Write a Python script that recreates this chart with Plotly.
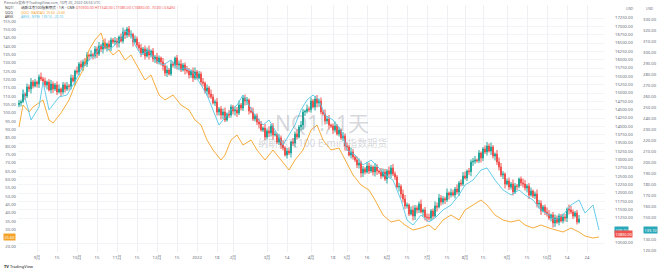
import plotly.graph_objects as go

# ---------------- data ----------------
closes = [
    14700, 14740, 14970, 14910, 15180, 15120, 15330, 15210, 15330, 15270,
    15480, 15420, 15360, 15240, 15330, 15090, 15270, 15120, 15240, 15030,
    15120, 15030, 15240, 15120, 15210, 15200, 15450, 15360, 15660, 15630,
    15870, 15780, 15930, 15870, 16140, 16110, 16150, 16110, 16320, 16170,
    16410, 16320, 16500, 16350, 16470, 16380, 16590, 16530, 16560, 16500,
    16680, 16560, 16830, 16740, 16920, 16740, 16760, 16530, 16620, 16440,
    16350, 16200, 16320, 16110, 16290, 16140, 16260, 16020, 16080, 15930,
    16050, 15930, 15810, 15600, 15690, 15570, 15870, 15840, 16050, 15840,
    15870, 15690, 15840, 15690, 15660, 15540, 15660, 15450, 15630, 15450,
    15570, 15330, 15300, 15060, 15150, 14970, 14880, 14700, 14730, 14430,
    14520, 14340, 14430, 14190, 14370, 14340, 14580, 14460, 14490, 14400,
    14640, 14550, 14850, 14760, 14790, 14460, 14430, 14220, 14310, 14130,
    14070, 13890, 13950, 13680, 13860, 13800, 14010, 13740, 13760, 13530,
    13650, 13440, 13350, 13140, 13260, 13200, 13530, 13500, 13770, 13680,
    13980, 14040, 14430, 14450, 14520, 14500, 14760, 14580, 14820, 14700,
    14760, 14430, 14370, 14160, 14220, 14040, 14010, 13890, 14010, 13770,
    13890, 13650, 13710, 13410, 13380, 13140, 13230, 13080, 12990, 12840,
    12900, 12600, 12720, 12630, 12810, 12660, 12780, 12630, 12780, 12660,
    12630, 12510, 12630, 12420, 12660, 12570, 12750, 12570, 12480, 12180,
    12200, 11970, 11820, 11610, 11640, 11370, 11490, 11310, 11550, 11490,
    11670, 11430, 11490, 11280, 11260, 11250, 11460, 11310, 11610, 11580,
    11850, 11730, 11830, 11790, 12000, 11940, 12010, 11940, 12120, 12030,
    12300, 12270, 12510, 12450, 12660, 12640, 12930, 12950, 12990, 12970,
    13200, 13050, 13320, 13230, 13410, 13260, 13380, 13110, 13170, 12930,
    12780, 12540, 12570, 12270, 12360, 12180, 12270, 12030, 12210, 12200,
    12420, 12300, 12270, 12150, 12210, 11940, 12060, 11910, 11970, 11670,
    11690, 11460, 11580, 11430, 11370, 11250, 11340, 11100, 11250, 11120,
    11310, 11160, 11280, 11250, 11520, 11490, 11430, 11310, 11400, 11130,
    11220, 11010, 11070, 10800, 10820, 10590, 10740, 10760, 10830, 10900, 10830,
]
first_open = 14650

# upper / lower shadow lengths, in units of 15 points
wick_hi_units = (
    "6 4 9 3 7 5 8 4 6 3 5 9 4 7 3 6 8 5 4 7 9 3 6 5 8 4 7 6 3 9 "
    "4 7 5 8 6 3 9 4 6 5 8 4 6 9 3 7 5 4 8 6 3 7 9 5 4 6 8 3 7 5 "
    "6 8 4 7 5 9 3 6 4 8 5 3 8 6 9 4 7 5 3 6 7 9 4 5 8 6 3 7 9 4 "
    "6 5 8 3 7 4 9 6 5 8 4 6 7 9 3 8 5 4 7 6 9 4 5 7 6 3 8 9 4 5 "
    "7 6 3 8 5 9 4 6 7 3 8 5 9 4 6 7 3 8 5 9 4 8 6 3 9 5 7 4 6 8 "
    "5 7 4 9 6 8 3 5 9 4 6 3 8 5 7 4 9 6 3 7 9 5 6 4 8 7 5 3 8 6 "
    "3 8 7 6 4 9 6 8 5 4 7 4 9 8 5 3 7 9 6 5 5 9 3 6 7 8 4 5 9 7 "
    "8 6 5 4 9 3 8 6 4 9 4 7 8 9 3 6 5 7 8 3 6 3 4 7 8 5 9 4 3 8 "
    "9 8 6 3 5 7 4 9 6 4 3 5 9 8 4 6 7 3 5 9 7 6 4 5 9 8 3 6 7 5 "
    "5 4 7 6 3 9 8 5 4 6 8"
)
wick_lo_units = (
    "5 7 3 8 4 6 9 5 3 7 8 4 6 5 9 3 7 8 4 6 3 9 5 7 4 8 6 3 9 5 "
    "7 5 8 4 6 9 3 7 5 8 4 6 9 3 7 5 8 4 6 9 9 3 5 8 6 4 7 9 3 5 "
    "6 8 4 7 3 9 5 6 8 4 5 7 9 6 8 3 4 5 7 9 8 4 3 9 5 7 6 8 4 3 "
    "3 6 7 5 9 8 4 3 6 7 7 9 8 4 3 6 5 7 9 8 4 5 6 9 8 7 3 4 5 6 "
    "9 3 4 6 5 8 7 9 3 4 6 8 5 3 7 4 9 6 8 5 3 7 9 8 4 5 6 3 7 9 "
    "8 5 3 7 6 9 4 8 5 3 5 4 6 9 8 3 7 5 4 6 7 9 8 5 3 6 4 7 9 8 "
    "4 6 3 4 9 7 8 4 6 3 9 8 7 6 5 4 3 9 8 7 6 3 9 7 8 5 6 6 3 9 "
    "3 7 5 8 4 9 5 3 7 5 8 5 4 3 6 7 9 8 5 4 5 9 6 4 7 3 8 5 9 6 "
    "7 4 8 9 3 6 5 7 4 8 4 6 7 5 9 8 3 4 6 7 9 8 3 6 5 4 7 9 8 3 "
    "6 3 5 7 8 9 4 6 3 5 3"
)

# comparison series (left scale: orange, second right scale: blue)
orange_idx = [0, 2, 5, 7, 12, 15, 17, 21, 25, 28, 32, 35, 38, 41, 43, 47, 50, 53, 56, 60,
              63, 66, 70, 73, 77, 81, 85, 88, 91, 94, 97, 101, 103, 106, 109, 112, 116, 119, 123, 127,
              131, 135, 138, 142, 146, 149, 152, 156, 160, 163, 167, 171, 175, 178, 182, 186, 190, 193, 197, 201,
              205, 208, 212, 216, 220, 223, 227, 231, 234, 238, 242, 246, 250, 253, 257, 261, 265, 269, 272, 276,
              280, 283, 287, 290]
orange_val = [91.6, 104.8, 100.6, 103.6, 107.8, 95.8, 94.0, 100.0, 107.8, 116.8,
              125.8, 137.8, 143.8, 148.0, 140.8, 134.8, 137.8, 131.8, 134.8, 125.8,
              119.8, 122.8, 110.8, 107.8, 110.8, 104.8, 101.8, 95.8, 92.8, 83.8,
              77.8, 71.8, 74.8, 83.8, 86.8, 80.8, 83.8, 77.8, 71.8, 77.8,
              71.8, 65.8, 71.8, 77.8, 89.8, 92.8, 83.8, 77.8, 79.0, 71.8,
              62.8, 56.8, 53.8, 47.8, 38.8, 34.6, 35.8, 32.8, 29.8, 31.0,
              32.8, 29.8, 35.8, 38.8, 35.8, 41.8, 44.8, 47.8, 44.8, 38.8,
              35.8, 34.6, 35.8, 32.8, 31.0, 32.8, 31.0, 29.8, 28.6, 31.0,
              28.6, 26.2, 25.0, 25.6]

blue_idx = [2, 6, 10, 12, 15, 20, 24, 27, 31, 35, 38, 41, 45, 48, 51, 53, 56, 58, 61, 65,
            68, 72, 76, 80, 83, 87, 91, 94, 97, 100, 102, 106, 109, 112, 115, 118, 122, 125, 128, 132,
            135, 138, 141, 144, 147, 150, 153, 157, 161, 164, 168, 172, 176, 180, 183, 187, 191, 194, 197, 201,
            205, 208, 212, 216, 220, 223, 227, 231, 234, 238, 242, 246, 250, 253, 257, 261, 265, 268, 272, 276,
            280, 283, 287, 290]
blue_val = [266.4, 239.1, 250.9, 273.6, 248.2, 260.0, 261.8, 270.9, 284.5, 293.6,
            298.2, 307.3, 302.7, 307.3, 313.6, 320.9, 316.4, 307.3, 298.2, 302.7,
            293.6, 289.1, 293.6, 284.5, 286.4, 282.7, 270.9, 261.8, 248.2, 234.5,
            239.1, 248.2, 252.7, 261.8, 252.7, 243.6, 234.5, 239.1, 230.0, 216.4,
            225.5, 234.5, 248.2, 257.3, 261.8, 257.3, 243.6, 239.1, 230.0, 211.8,
            207.3, 198.2, 202.7, 195.5, 189.1, 184.5, 166.4, 148.2, 143.6, 152.7,
            146.4, 150.0, 157.3, 161.8, 170.9, 180.0, 184.5, 193.6, 195.5, 184.5,
            175.5, 170.9, 175.5, 170.9, 166.4, 157.3, 152.7, 148.2, 152.7, 161.8,
            166.4, 154.5, 161.8, 139.1]

x_tick_idx = [9, 19, 29, 39, 49, 59, 69, 79, 89, 99, 107, 124, 134, 146, 157, 164, 174, 184,
              194, 204, 214, 223, 232, 244, 254, 264, 274, 284]
x_tick_text = ["9月", "15", "10月", "15", "11月", "15", "12月", "15", "2022", "18", "2月", "3月", "14",
               "4月", "18", "5月", "16", "6月", "15", "7月", "15", "8月", "15", "9月", "15", "10月", "14", "24"]

main_ticks = list(range(10500, 17251, 250))
left_ticks = list(range(20, 156, 5))
blue_ticks = list(range(120, 331, 10))

# ---------------- build ----------------
n = len(closes)
idx = list(range(n))
opens = [first_open] + closes[:-1]
wh = [int(v) * 15 for v in wick_hi_units.split()][:n]
wl = [int(v) * 15 for v in wick_lo_units.split()][:n]
highs = [max(o, c) + w for o, c, w in zip(opens, closes, wh)]
lows = [min(o, c) - w for o, c, w in zip(opens, closes, wl)]

UP, DN = "#26a69a", "#ef5350"
ORANGE, BLUE, TEAL = "#f5a327", "#55c6e6", "#2aa7b9"
TXT = "#676b77"
FONT = "Noto Sans, Noto Sans CJK SC, sans-serif"

W, H = 660, 272
ML, MR, MT, MB = 18, 0, 5, 20
PW, PH = W - ML - MR, H - MT - MB

Y_MAIN = [10230, 17640]
Y_LEFT = [16.6, 164.8]
Y_BLUE = [119.1, 343.6]


def px(x):
    return (x - ML) / PW


def py(y):
    return 1 - (y - MT) / PH


def clear_of(ticks, value, rng, gap_px=5):
    """drop tick labels that would sit under a price box"""
    per_px = (rng[1] - rng[0]) / PH
    return [t for t in ticks if abs(t - value) / per_px > gap_px]


fig = go.Figure()
fig.add_trace(go.Candlestick(
    x=idx, open=opens, high=highs, low=lows, close=closes,
    increasing=dict(line=dict(color=UP, width=1), fillcolor=UP),
    decreasing=dict(line=dict(color=DN, width=1), fillcolor=DN),
    whiskerwidth=0, yaxis="y", showlegend=False, hoverinfo="skip"))
fig.add_trace(go.Scatter(x=orange_idx, y=orange_val, mode="lines", yaxis="y2",
                         line=dict(color=ORANGE, width=0.9), showlegend=False, hoverinfo="skip"))
fig.add_trace(go.Scatter(x=blue_idx, y=blue_val, mode="lines", yaxis="y3",
                         line=dict(color=BLUE, width=0.9), showlegend=False, hoverinfo="skip"))

mt = clear_of(main_ticks, closes[-1], Y_MAIN, 6)
lt = clear_of(left_ticks, orange_val[-1], Y_LEFT, 5)
bt = clear_of(blue_ticks, blue_val[-1], Y_BLUE, 5)

tickfont = dict(size=4.2, color=TXT, family=FONT)
fig.update_layout(
    width=W, height=H, margin=dict(l=ML, r=MR, t=MT, b=MB),
    paper_bgcolor="white", plot_bgcolor="white", font=dict(family=FONT),
    xaxis=dict(domain=[0, px(605)], range=[-0.5, 293], tickvals=x_tick_idx, ticktext=x_tick_text,
               tickfont=tickfont, showgrid=True, gridcolor="#eef0f4", gridwidth=1,
               zeroline=False, showline=False, ticks="", rangeslider=dict(visible=False),
               ticklabelstandoff=2),
    yaxis=dict(side="right", range=Y_MAIN, tickvals=mt,
               ticktext=[f"{v:.2f}" for v in mt], tickfont=tickfont,
               showgrid=True, gridcolor="#f3f4f7", zeroline=False, ticks="", ticklabelstandoff=9),
    yaxis2=dict(overlaying="y", side="left", range=Y_LEFT, tickvals=lt,
                ticktext=[f"{v:.2f}" for v in lt], tickfont=tickfont,
                showgrid=False, zeroline=False, ticks="", ticklabelstandoff=1),
    yaxis3=dict(overlaying="y", side="right", anchor="free", position=px(640),
                range=Y_BLUE, tickvals=bt,
                ticktext=[f"{v:.2f}" for v in bt], tickfont=tickfont,
                showgrid=False, zeroline=False, ticks="", ticklabelstandoff=2),
)

ann = []


def text(x, y, s, size=3.6, color=TXT, anchor="left"):
    ann.append(dict(x=px(x), y=py(y), xref="paper", yref="paper", text=s, showarrow=False,
                    xanchor=anchor, yanchor="middle", borderpad=0,
                    font=dict(size=size, color=color, family=FONT)))


# header rows
text(3, 2.3, "Pinnacle发布于TradingView.com, 10月 20, 2022 03:53 UTC")
last_o, last_h, last_l, last_c = opens[-1], highs[-1], lows[-1], closes[-1]
chg = last_c - last_o
text(4, 7.6, "NQ1!", color="#333")
text(20, 7.6, "纳斯达克100指数期货 · 1天 · CME "
     f"<span style='color:{DN}'>O{last_o:.2f} H{last_h:.2f} L{last_l:.2f} C{last_c:.2f} "
     f"{chg:+.2f} ({chg / last_o * 100:+.2f}%)</span>", color="#333")
text(4, 12.2, "QQQ", size=3.3, color="#333")
text(20, 12.2, f"QQQ · NASDAQ  {orange_val[-1]:.2f}  {orange_val[-1] - orange_val[-2]:+.2f}",
     size=3.3, color=ORANGE)
text(4, 16.8, "ARKK", size=3.3, color="#333")
text(20, 16.8, f"ARKK · NYSE  {blue_val[-1]:.2f}  {blue_val[-1] - blue_val[-2]:+.2f}",
     size=3.3, color=BLUE)
text(630, 8, "USD", anchor="center")
text(650, 8, "USD", anchor="center")

# watermark
text(322, 123, "NQ1!, 1天", size=21, color="rgba(115,120,135,0.30)", anchor="center")
text(322, 143, "纳斯达克100 E-mini指数期货", size=10, color="rgba(115,120,135,0.30)", anchor="center")

# logo
text(3, 266.5, "<b>TV</b> TradingView", size=4, color="#222")


def box(x, yref, yval, label, color, yshift=0):
    ann.append(dict(x=px(x), y=yval, xref="paper", yref=yref, text=label, yshift=yshift,
                    showarrow=False, xanchor="left", yanchor="middle", bgcolor=color, borderpad=0.6,
                    font=dict(size=3.8, color="white", family=FONT)))


# price labels on the scales
box(3, "y2", orange_val[-1], f"{orange_val[-1]:.2f}", ORANGE)
box(614, "y3", blue_val[-1], f"{blue_val[-1]:.2f}", TEAL)
box(614, "y", last_c, f"{last_c:.2f}", DN, yshift=-2)
box(643, "y3", blue_val[-1], f"{blue_val[-1]:.2f}", TEAL)

fig.update_layout(annotations=ann)
fig.write_html("out.html")
